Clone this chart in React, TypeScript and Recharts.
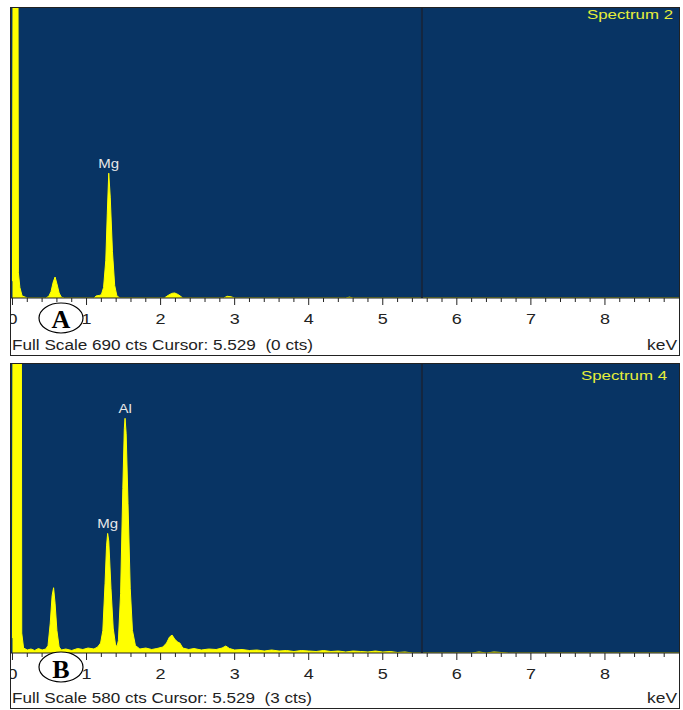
import {
  AreaChart,
  Area,
  XAxis,
  YAxis,
  CartesianGrid,
  ReferenceLine,
  ReferenceDot,
} from "recharts";

const FONT = '"Liberation Sans", Arial, sans-serif';
const SERIF = '"Liberation Serif", "Times New Roman", serif';
const PLOT_BG = "#083464";
const PEAK_YELLOW = "#ffff00";
const CURSOR_KEV = 5.529;
const KEV_DOMAIN: [number, number] = [-0.02, 9.0];

// axis ticks (keV)
const majorTicks = [0, 1, 2, 3, 4, 5, 6, 7, 8];
const minorTicks = majorTicks.flatMap((k) =>
  [0.2, 0.4, 0.6, 0.8].map((f) => +(k + f).toFixed(1))
);
const axisTicks = [...majorTicks, ...minorTicks].sort((a, b) => a - b);

// Spectrum 2 (A) - full scale 690 cts
const energyA = [
  0, 0.02, 0.065, 0.08, 0.1, 0.13, 0.2, 0.45, 0.49, 0.52, 0.55, 0.575, 0.6,
  0.63, 0.66, 0.7, 1.1, 1.13, 1.17, 1.2, 1.23, 1.26, 1.28, 1.3, 1.32, 1.35,
  1.38, 1.41, 1.45, 2.05, 2.1, 2.15, 2.19, 2.24, 2.3, 2.85, 2.9, 2.95, 3.0,
  4.5, 4.55, 4.6, 9.0,
];
const countsA = [
  40, 2000, 2000, 60, 25, 5, 0, 0, 4, 15, 38, 50, 34, 12, 2, 0, 0, 5, 6, 8, 25,
  90, 200, 297, 240, 110, 30, 5, 0, 0, 6, 11, 12, 8, 0, 0, 4, 3, 0, 0, 2, 0, 0,
];
const peakLabelsA = [{ name: "Mg", kev: 1.3, cts: 297 }];

// Spectrum 4 (B) - full scale 580 cts
const energyB = [
  0, 0.02, 0.11, 0.125, 0.15, 0.2, 0.25, 0.3, 0.35, 0.4, 0.45, 0.48, 0.51,
  0.535, 0.555, 0.575, 0.6, 0.63, 0.66, 0.72, 0.8, 0.88, 0.95, 1.02, 1.1, 1.15,
  1.19, 1.22, 1.25, 1.27, 1.285, 1.3, 1.33, 1.36, 1.39, 1.41, 1.43, 1.46, 1.49,
  1.51, 1.52, 1.535, 1.56, 1.59, 1.62, 1.66, 1.72, 1.8, 1.88, 1.95, 2.03, 2.08,
  2.12, 2.155, 2.19, 2.23, 2.26, 2.3, 2.38, 2.45, 2.55, 2.65, 2.75, 2.83, 2.88,
  2.93, 3.0, 3.1, 3.2, 3.3, 3.4, 3.5, 3.6, 3.7, 3.8, 3.9, 4.0, 4.1, 4.2, 4.3,
  4.4, 4.5, 4.6, 4.7, 4.8, 4.9, 5.0, 5.1, 5.2, 5.3, 5.4, 6.2, 6.3, 6.4, 6.5,
  6.6, 6.7, 9.0,
];
const countsB = [
  30, 2000, 2000, 40, 10, 6, 8, 5, 9, 6, 8, 15, 60, 115, 131, 100, 45, 12, 6,
  8, 5, 9, 7, 10, 8, 12, 20, 45, 140, 215, 240, 225, 130, 50, 18, 12, 25, 120,
  330, 450, 471, 440, 300, 130, 45, 15, 8, 10, 7, 9, 12, 20, 32, 36, 28, 22,
  20, 10, 7, 9, 6, 8, 7, 10, 14, 9, 6, 7, 5, 6, 4, 6, 4, 5, 3, 5, 4, 3, 5, 3,
  4, 2, 4, 3, 2, 4, 2, 3, 1, 2, 0, 0, 2, 0, 2, 1, 0, 0,
];
const peakLabelsB = [
  { name: "Mg", kev: 1.285, cts: 240 },
  { name: "Al", kev: 1.52, cts: 471 },
];

const toRows = (kev: number[], cts: number[]) =>
  kev.map((k, i) => ({ kev: k, cts: cts[i] }));

const KevTick = (props: any) => {
  const { x, y, payload } = props;
  const v = payload.value as number;
  const major = Math.abs(v - Math.round(v)) < 1e-6;
  return (
    <g>
      <line x1={x} x2={x} y1={y} y2={y + (major ? 7 : 4)} stroke="#222" />
      {major && (
        <text
          transform={`translate(${x} ${y + 26}) scale(1.2 1)`}
          textAnchor="middle"
          fontFamily={FONT}
          fontSize={15}
          fill="#222"
        >
          {v}
        </text>
      )}
    </g>
  );
};

type PanelProps = {
  top: number;
  height: number;
  plotHeight: number;
  fullScale: number;
  rows: { kev: number; cts: number }[];
  peaks: { name: string; kev: number; cts: number }[];
};

function SpectrumPanel({ top, height, plotHeight, fullScale, rows, peaks }: PanelProps) {
  return (
    <div
      style={{
        position: "absolute",
        left: 10,
        top,
        width: 670,
        height,
        boxSizing: "border-box",
        border: "1px solid #222",
        background: "#fff",
      }}
    >
      <AreaChart
        width={668}
        height={plotHeight + 32}
        data={rows}
        margin={{ top: 0, right: 0, bottom: 0, left: 0 }}
      >
        <CartesianGrid fill={PLOT_BG} stroke="none" horizontal={false} vertical={false} />
        <XAxis
          dataKey="kev"
          type="number"
          domain={KEV_DOMAIN}
          ticks={axisTicks}
          interval={0}
          allowDataOverflow
          tick={(p: any) => <KevTick {...p} />}
          tickLine={false}
          tickSize={0}
          tickMargin={0}
          axisLine={{ stroke: "#1e1e1e" }}
          height={32}
        />
        <YAxis hide domain={[0, fullScale]} allowDataOverflow />
        <ReferenceLine x={CURSOR_KEV} stroke="#15263f" strokeWidth={2} />
        <Area
          type="linear"
          dataKey="cts"
          stroke={PEAK_YELLOW}
          strokeWidth={1}
          fill={PEAK_YELLOW}
          fillOpacity={1}
          dot={false}
          activeDot={false}
          isAnimationActive={false}
        />
        {peaks.map((pk) => (
          <ReferenceDot
            key={pk.name}
            x={pk.kev}
            y={pk.cts}
            r={0}
            shape={(p: any) => (
              <text
                transform={`translate(${p.cx} ${p.cy - 5}) scale(1.25 1)`}
                textAnchor="middle"
                fontFamily={FONT}
                fontSize={12}
                fill="#e8e8e8"
              >
                {pk.name}
              </text>
            )}
          />
        ))}
      </AreaChart>
    </div>
  );
}

export default function App() {
  return (
    <div
      style={{
        position: "absolute",
        left: 0,
        top: 0,
        width: 683,
        height: 710,
        background: "#fff",
        overflow: "hidden",
      }}
    >
      <SpectrumPanel
        top={7}
        height={349}
        plotHeight={290}
        fullScale={690}
        rows={toRows(energyA, countsA)}
        peaks={peakLabelsA}
      />
      <SpectrumPanel
        top={363}
        height={346}
        plotHeight={289}
        fullScale={580}
        rows={toRows(energyB, countsB)}
        peaks={peakLabelsB}
      />
      <svg
        width={683}
        height={710}
        style={{ position: "absolute", left: 0, top: 0, pointerEvents: "none" }}
      >
        <g fontFamily={FONT}>
          <text x={673} y={19} textAnchor="end" fontSize={13.5} fill="#e6ee3a" textLength={86} lengthAdjust="spacingAndGlyphs">
            Spectrum 2
          </text>
          <text x={667} y={380} textAnchor="end" fontSize={13.5} fill="#e6ee3a" textLength={86} lengthAdjust="spacingAndGlyphs">
            Spectrum 4
          </text>
          <text x={12} y={350} fontSize={14} fill="#222" textLength={301} lengthAdjust="spacingAndGlyphs">
            {"Full Scale 690 cts Cursor: 5.529 \u00a0(0 cts)"}
          </text>
          <text x={12} y={703} fontSize={14} fill="#222" textLength={300} lengthAdjust="spacingAndGlyphs">
            {"Full Scale 580 cts Cursor: 5.529 \u00a0(3 cts)"}
          </text>
          <text x={677} y={350} textAnchor="end" fontSize={14} fill="#222" textLength={30} lengthAdjust="spacingAndGlyphs">
            keV
          </text>
          <text x={677} y={703} textAnchor="end" fontSize={14} fill="#222" textLength={30} lengthAdjust="spacingAndGlyphs">
            keV
          </text>
        </g>
        <g fontFamily={SERIF} fontWeight={700} fontSize={26}>
          <ellipse cx={61} cy={318} rx={22} ry={15} fill="#fff" stroke="#000" strokeWidth={1.2} />
          <text x={61} y={327.5} textAnchor="middle" fill="#000">A</text>
          <ellipse cx={61} cy={667} rx={22} ry={15} fill="#fff" stroke="#000" strokeWidth={1.2} />
          <text x={61} y={678} textAnchor="middle" fill="#000">B</text>
        </g>
      </svg>
    </div>
  );
}
